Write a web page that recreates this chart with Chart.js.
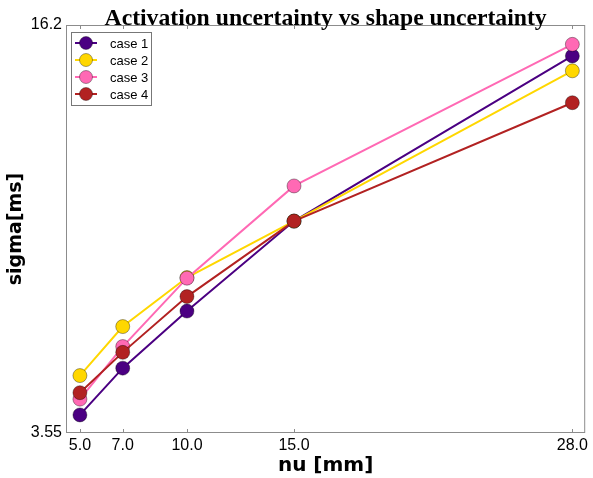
<!DOCTYPE html>
<html>
<head>
<meta charset="utf-8">
<script src="https://cdn.jsdelivr.net/npm/chart.js@4"></script>
<style>
  html, body { margin: 0; padding: 0; background: #fff; }
  #wrap { width: 593px; height: 478px; }
</style>
</head>
<body>
<div id="wrap"><canvas id="chart" width="593" height="478"></canvas></div>
<script>
// nu values along x, one sigma series per case
const nuValues = [5.0, 7.0, 10.0, 15.0, 28.0];
const case1 = [4.11, 5.56, 7.33, 10.12, 15.24];
const case2 = [5.33, 6.85, 8.37, 10.12, 14.78];
const case3 = [4.60, 6.23, 8.35, 11.21, 15.60];
const case4 = [4.80, 6.05, 7.78, 10.12, 13.79];
const caseLabels = ['case 1', 'case 2', 'case 3', 'case 4'];
const yTicks = [3.55, 16.2];
const chartTitle = 'Activation uncertainty vs shape uncertainty';

const COLORS = ['#4B0082', '#FFD700', '#FF69B4', '#B22222'];
const FRAME = '#8c8c8c';

const series = [case1, case2, case3, case4];

// frame, inward ticks, title and the legend box, drawn matplotlib style
const framePlugin = {
  id: 'frame',
  afterDatasetsDraw(chart) {
    const { ctx, chartArea: a, scales } = chart;
    ctx.save();
    ctx.strokeStyle = FRAME;
    ctx.lineWidth = 1;
    ctx.strokeRect(a.left + 0.5, a.top + 0.5, a.right - a.left - 1, a.bottom - a.top - 1);
    ctx.beginPath();
    nuValues.forEach(v => {
      const x = Math.round(scales.x.getPixelForValue(v)) + 0.5;
      ctx.moveTo(x, a.bottom); ctx.lineTo(x, a.bottom - 4);
      ctx.moveTo(x, a.top); ctx.lineTo(x, a.top + 4);
    });
    ctx.stroke();

    // title, centred over the plot area
    ctx.fillStyle = '#000';
    ctx.font = 'bold 23.7px "Liberation Serif", "Times New Roman", serif';
    ctx.textAlign = 'center';
    ctx.textBaseline = 'alphabetic';
    ctx.fillText(chartTitle, (a.left + a.right) / 2, 25);

    // legend
    ctx.textAlign = 'left';
    const lx = a.left + 5, ly = a.top + 7, lw = 80, lh = 73;
    ctx.fillStyle = '#fff';
    ctx.fillRect(lx, ly, lw, lh);
    ctx.strokeStyle = '#777';
    ctx.lineWidth = 1;
    ctx.strokeRect(lx + 0.5, ly + 0.5, lw, lh);
    ctx.font = '13px "Liberation Sans", Arial, sans-serif';
    ctx.textBaseline = 'middle';
    caseLabels.forEach((label, i) => {
      const y = ly + 11 + i * 17;
      ctx.strokeStyle = COLORS[i];
      ctx.lineWidth = 2;
      ctx.beginPath();
      ctx.moveTo(lx + 4, y); ctx.lineTo(lx + 26, y);
      ctx.stroke();
      ctx.beginPath();
      ctx.arc(lx + 15, y, 6.5, 0, Math.PI * 2);
      ctx.fillStyle = COLORS[i];
      ctx.fill();
      ctx.lineWidth = 0.8;
      ctx.strokeStyle = 'rgba(0,0,0,0.45)';
      ctx.stroke();
      ctx.fillStyle = '#000';
      ctx.fillText(label, lx + 39, y + 1);
    });
    ctx.restore();
  }
};

new Chart(document.getElementById('chart'), {
  type: 'line',
  data: {
    datasets: series.map((vals, i) => ({
      label: caseLabels[i],
      data: nuValues.map((x, j) => ({ x, y: vals[j] })),
      borderColor: COLORS[i],
      backgroundColor: COLORS[i],
      borderWidth: 2,
      pointRadius: 7,
      pointBorderWidth: 0.8,
      pointBorderColor: 'rgba(0,0,0,0.45)',
      tension: 0,
      order: 4 - i
    }))
  },
  options: {
    responsive: false,
    animation: false,
    layout: { padding: { left: 0, right: 3, top: 25, bottom: 0 } },
    plugins: {
      legend: { display: false },
      tooltip: { enabled: false },
      title: { display: false }
    },
    scales: {
      x: {
        type: 'linear',
        min: 4.35,
        max: 28.6,
        grid: { display: false, drawTicks: false },
        border: { display: false },
        afterBuildTicks: s => { s.ticks = nuValues.map(v => ({ value: v })); },
        afterFit: s => { s.height = 45; s.paddingLeft = 0; s.paddingRight = 0; },
        ticks: {
          color: '#000',
          padding: 3,
          maxRotation: 0,
          font: { family: '"Liberation Sans", Arial, sans-serif', size: 16 },
          callback: v => v.toFixed(1)
        },
        title: {
          display: true,
          text: 'nu [mm]',
          color: '#000',
          padding: { top: 0, bottom: 0 },
          font: { family: '"DejaVu Sans", sans-serif', size: 20, weight: 'bold' }
        }
      },
      y: {
        min: yTicks[0],
        max: yTicks[1],
        grid: { display: false, drawTicks: false },
        border: { display: false },
        afterBuildTicks: s => { s.ticks = yTicks.map(v => ({ value: v })); },
        afterFit: s => { s.width = 66; s.paddingTop = 0; s.paddingBottom = 0; },
        ticks: {
          color: '#000',
          padding: 4,
          font: { family: '"Liberation Sans", Arial, sans-serif', size: 16 },
          callback: v => String(v)
        },
        title: {
          display: true,
          text: 'sigma[ms]',
          color: '#000',
          padding: { top: 5, bottom: 0 },
          font: { family: '"DejaVu Sans", sans-serif', size: 19, weight: 'bold' }
        }
      }
    }
  },
  plugins: [framePlugin]
});
</script>
</body>
</html>
